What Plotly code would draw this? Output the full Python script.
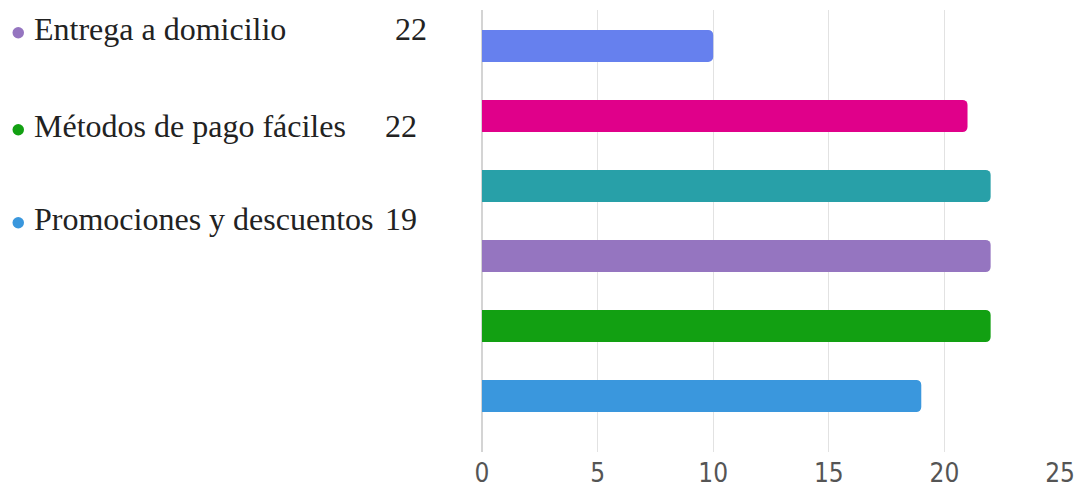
import plotly.graph_objects as go

# ---- data ----
categories = ["Opción 1", "Opción 2", "Opción 3",
              "Entrega a domicilio", "Métodos de pago fáciles", "Promociones y descuentos"]
values = [10, 21, 22, 22, 22, 19]
bar_colors = ["#6680ee", "#e0008a", "#28a0a8", "#9575c0", "#12a012", "#3a97dd"]

legend_labels = ["Entrega a domicilio", "Métodos de pago fáciles", "Promociones y descuentos"]
legend_values = [22, 22, 19]
legend_colors = ["#9575c0", "#12a012", "#3a97dd"]

x_ticks = [0, 5, 10, 15, 20, 25]

# ---- layout geometry (pixels) ----
W, H = 1076, 489
ML, MR, MT, MB = 482, 16, 10, 37
PW = W - ML - MR
PH = H - MT - MB


def px_x(px):
    return (px - ML) / PW


def px_y(py):
    return 1 - (py - MT) / PH


fig = go.Figure()
fig.add_trace(go.Bar(
    x=values, y=categories, orientation="h",
    marker=dict(color=bar_colors, line=dict(width=0)),
    width=0.46, hoverinfo="x+y", showlegend=False,
))

serif = "Liberation Serif, Times New Roman, serif"
legend_rows_y = [29, 126, 219]
legend_num_x = [429, 419, 419]
annotations = []
shapes = []
for lab, val, col, ry, nx in zip(legend_labels, legend_values, legend_colors, legend_rows_y, legend_num_x):
    annotations.append(dict(
        x=px_x(32), y=px_y(ry), xref="paper", yref="paper",
        text=lab, showarrow=False, xanchor="left", yanchor="middle",
        font=dict(family=serif, size=32, color="#222222"),
    ))
    annotations.append(dict(
        x=px_x(nx), y=px_y(ry), xref="paper", yref="paper",
        text=str(val), showarrow=False, xanchor="right", yanchor="middle",
        font=dict(family=serif, size=32, color="#222222"),
    ))
    shapes.append(dict(
        type="circle", xref="paper", yref="paper",
        x0=px_x(12.5), x1=px_x(24), y0=px_y(ry + 9.5), y1=px_y(ry - 2),
        fillcolor=col, line=dict(width=0),
    ))

fig.update_layout(
    width=W, height=H,
    margin=dict(l=ML, r=MR, t=MT, b=MB, pad=0, autoexpand=False),
    paper_bgcolor="white", plot_bgcolor="white",
    barcornerradius=5,
    annotations=annotations,
    shapes=shapes,
    xaxis=dict(
        range=[0, 25], tickvals=x_ticks, ticktext=[str(t) for t in x_ticks],
        showgrid=True, gridcolor="#e2e2e2", gridwidth=1,
        zeroline=True, zerolinecolor="#d4d4d4", zerolinewidth=1.5,
        showline=False, ticks="", ticklabelstandoff=3, automargin=False,
        tickfont=dict(family="Liberation Sans Narrow, DejaVu Sans Condensed, Arial Narrow, sans-serif",
                      size=26, color="#555555"),
        fixedrange=True,
    ),
    yaxis=dict(
        range=[5.8, -0.514], showticklabels=False, showgrid=False,
        zeroline=False, showline=False, ticks="", fixedrange=True, automargin=False,
    ),
)

fig.write_html("out.html", config=dict(displayModeBar=False))
